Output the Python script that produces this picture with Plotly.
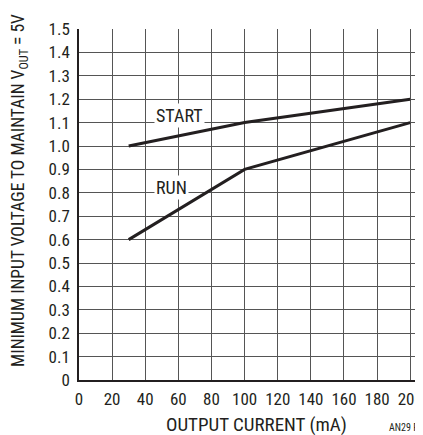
import plotly.graph_objects as go

# Data
start_x = [30, 100, 200]
start_y = [1.0, 1.1, 1.2]
run_x = [30, 100, 200]
run_y = [0.6, 0.9, 1.1]

x_ticks = [0, 20, 40, 60, 80, 100, 120, 140, 160, 180, 200]
y_ticks = [0, 0.1, 0.2, 0.3, 0.4, 0.5, 0.6, 0.7, 0.8, 0.9, 1.0, 1.1, 1.2, 1.3, 1.4, 1.5]
y_tick_text = ["0"] + [f"{v:.1f}" for v in y_ticks[1:]]

FONT = "Liberation Sans Narrow, Arial Narrow, Roboto Condensed, sans-serif"
INK = "#231f20"
GRID = "#555555"

fig = go.Figure()
fig.add_trace(go.Scatter(x=start_x, y=start_y, mode="lines",
                         line=dict(color=INK, width=3), showlegend=False))
fig.add_trace(go.Scatter(x=run_x, y=run_y, mode="lines",
                         line=dict(color=INK, width=3), showlegend=False))

fig.add_annotation(x=60.5, y=1.129, text="START", showarrow=False,
                   font=dict(family=FONT, size=18, color=INK),
                   bgcolor="white", borderpad=1)
fig.add_annotation(x=55.7, y=0.822, text="RUN", showarrow=False,
                   font=dict(family=FONT, size=18, color=INK),
                   bgcolor="white", borderpad=1)

# axis titles as annotations
fig.add_annotation(x=0.52, xref="paper", y=-0.128, yref="paper",
                   text="OUTPUT CURRENT (mA)", showarrow=False,
                   font=dict(family=FONT, size=19, color=INK),
                   xanchor="center", yanchor="middle")
fig.add_annotation(x=-0.174, xref="paper", y=0.54, yref="paper",
                   text="MINIMUM INPUT VOLTAGE TO MAINTAIN V<sub>OUT</sub> = 5V",
                   textangle=-90, showarrow=False,
                   font=dict(family=FONT, size=17.5, color=INK),
                   xanchor="center", yanchor="middle")
fig.add_annotation(x=0.901, xref="paper", y=-0.134, yref="paper",
                   text="AN29 F20", showarrow=False,
                   font=dict(family=FONT, size=10, color=INK),
                   xanchor="left", yanchor="middle")

fig.update_xaxes(range=[0, 206.5], tickvals=x_ticks, ticktext=[str(v) for v in x_ticks],
                 showgrid=True, gridcolor=GRID, gridwidth=1,
                 showline=True, linecolor=INK, linewidth=1.5,
                 zeroline=False, ticks="", ticklen=0, ticklabeloverflow="allow",
                 ticklabelstandoff=3,
                 tickfont=dict(family=FONT, size=17, color=INK))
fig.update_yaxes(range=[0, 1.5], tickvals=y_ticks, ticktext=y_tick_text,
                 showgrid=True, gridcolor=GRID, gridwidth=1,
                 showline=True, linecolor=INK, linewidth=1.5,
                 zeroline=False, ticks="", ticklen=0, ticklabelstandoff=4,
                 tickfont=dict(family=FONT, size=17, color=INK))

fig.update_layout(width=415, height=427,
                  margin=dict(l=71, r=0, t=21, b=55),
                  paper_bgcolor="white", plot_bgcolor="white",
                  font=dict(family=FONT, color=INK))

fig.write_html("out.html")
